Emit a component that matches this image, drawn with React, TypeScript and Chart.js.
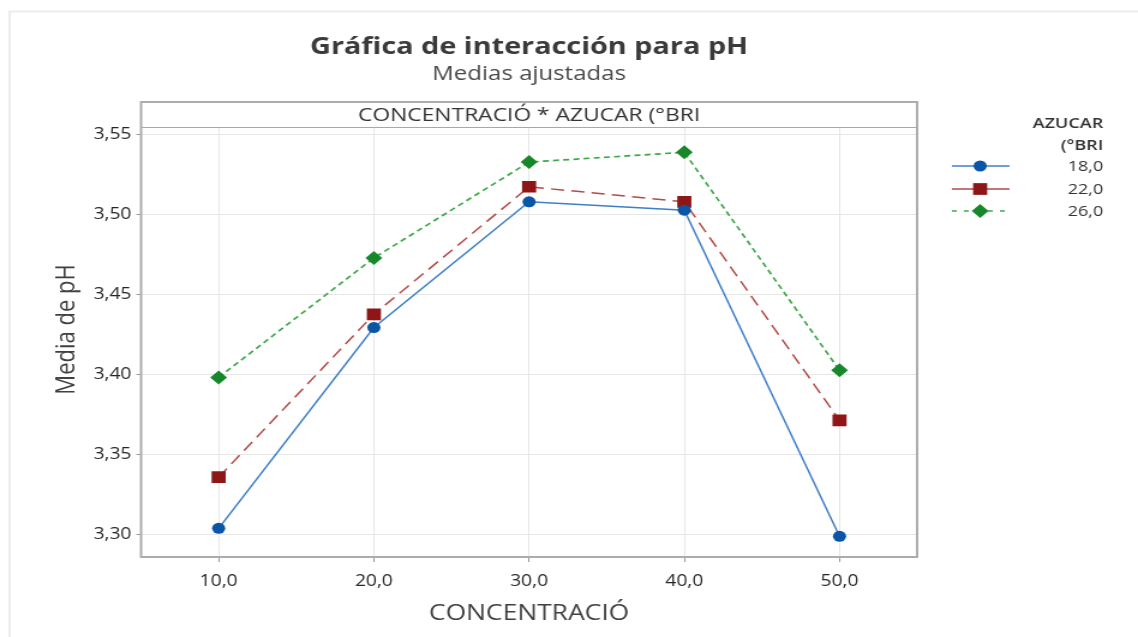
import React, { useEffect, useRef } from 'react';
import { Chart, registerables } from 'chart.js';

Chart.register(...registerables);

// ---- data ----
const concentrations = [10, 20, 30, 40, 50];
const seriesLabels = ['18,0', '22,0', '26,0'];
const ph18 = [3.3039, 3.4292, 3.5077, 3.5025, 3.2989];
const ph22 = [3.3358, 3.4375, 3.5171, 3.5077, 3.3713];
const ph26 = [3.3981, 3.4727, 3.5325, 3.5386, 3.4025];
const xTicks = [10, 20, 30, 40, 50];
const yTicks = [3.3, 3.35, 3.4, 3.45, 3.5, 3.55];
const titleText = 'Gráfica de interacción para pH';
const subtitleText = 'Medias ajustadas';
const stripText = 'CONCENTRACIÓ * AZUCAR (°BRI';
const xTitle = 'CONCENTRACIÓ';
const yTitle = 'Media de pH';
const legendTitle = ['AZUCAR', '(°BRI'];

const FONT = "'Open Sans', 'Noto Sans', sans-serif";
const fmt = (v: number, d: number) => Number(v).toFixed(d).replace('.', ',');

// the reference picture is horizontally stretched; draw on a narrower canvas and stretch it
const PAGE_W = 1138;
const PAGE_H = 637;
const CANVAS_W = 948;
const STRETCH = PAGE_W / CANVAS_W;

function drawMarker(ctx: CanvasRenderingContext2D, style: string, x: number, y: number, r: number, color: string) {
  ctx.save();
  ctx.fillStyle = color;
  ctx.beginPath();
  if (style === 'circle') {
    ctx.arc(x, y, r, 0, Math.PI * 2);
  } else if (style === 'rect') {
    const s = r * Math.SQRT1_2;
    ctx.rect(x - s, y - s, 2 * s, 2 * s);
  } else {
    ctx.moveTo(x, y - r);
    ctx.lineTo(x + r, y);
    ctx.lineTo(x, y + r);
    ctx.lineTo(x - r, y);
    ctx.closePath();
  }
  ctx.fill();
  ctx.restore();
}

export default function App() {
  const ref = useRef<HTMLCanvasElement>(null);

  useEffect(() => {
    const canvas = ref.current;
    if (!canvas) return;

    const seriesValues = [ph18, ph22, ph26];
    const lineColors = ['#3f7fc8', '#b34a47', '#3fa84c'];
    const markerColors = ['#0b55a6', '#8e1616', '#17882a'];
    const pointStyles = ['circle', 'rect', 'rectRot'];
    const radii = [5.5, 8.3, 7];
    const dashes = [[], [11, 6], [5, 3.5]];
    const legendDashes = [[], [], [4, 6]];
    const widths = [1.5, 1.5, 1.7];

    const datasets = seriesLabels.map((label, i) => ({
      label,
      data: concentrations.map((x, j) => ({ x, y: seriesValues[i][j] })),
      borderColor: lineColors[i],
      backgroundColor: markerColors[i],
      pointBackgroundColor: markerColors[i],
      pointBorderColor: markerColors[i],
      pointBorderWidth: 0,
      pointStyle: pointStyles[i] as any,
      pointRadius: radii[i],
      borderWidth: widths[i],
      borderDash: dashes[i],
      tension: 0,
      fill: false,
    }));

    const decor = {
      id: 'decor',
      beforeDatasetsDraw(chart: any) {
        const { ctx, chartArea: a } = chart;
        ctx.save();
        const stripH = 25;
        ctx.fillStyle = '#ffffff';
        ctx.fillRect(a.left, a.top, a.right - a.left, stripH);
        ctx.strokeStyle = '#a8a8a8';
        ctx.lineWidth = 1;
        ctx.beginPath();
        ctx.moveTo(a.left, a.top + stripH + 0.5);
        ctx.lineTo(a.right, a.top + stripH + 0.5);
        ctx.stroke();
        ctx.fillStyle = '#333333';
        ctx.font = `19px ${FONT}`;
        ctx.textAlign = 'center';
        ctx.textBaseline = 'middle';
        ctx.fillText(stripText, (a.left + a.right) / 2, a.top + stripH / 2 + 1);
        ctx.strokeStyle = '#acacac';
        ctx.lineWidth = 2;
        ctx.strokeRect(a.left, a.top, a.right - a.left, a.bottom - a.top);
        ctx.restore();
      },
      afterDraw(chart: any) {
        const { ctx, chartArea: a } = chart;
        ctx.save();
        ctx.strokeStyle = '#ececec';
        ctx.lineWidth = 2;
        ctx.beginPath();
        ctx.moveTo(8, chart.height);
        ctx.lineTo(8, 11.5);
        ctx.lineTo(chart.width, 11.5);
        ctx.stroke();
        const cx = (a.left + a.right) / 2;
        ctx.textAlign = 'center';
        ctx.textBaseline = 'alphabetic';
        ctx.fillStyle = '#3a3a3a';
        ctx.font = `bold 24px ${FONT}`;
        ctx.fillText(titleText, cx, 54);
        ctx.fillStyle = '#4a4a4a';
        ctx.font = `20px ${FONT}`;
        ctx.fillText(subtitleText, cx, 80);
        const rightX = 919;
        ctx.textAlign = 'right';
        ctx.textBaseline = 'middle';
        ctx.fillStyle = '#333333';
        ctx.font = `600 15px ${FONT}`;
        ctx.fillText(legendTitle[0], rightX, 124);
        ctx.fillText(legendTitle[1], rightX, 146);
        const rows = [166, 189, 211];
        chart.data.datasets.forEach((ds: any, i: number) => {
          const y = rows[i];
          ctx.save();
          ctx.strokeStyle = ds.borderColor;
          ctx.lineWidth = ds.borderWidth;
          ctx.setLineDash(legendDashes[i]);
          ctx.beginPath();
          ctx.moveTo(793, y);
          ctx.lineTo(841, y);
          ctx.stroke();
          ctx.restore();
          drawMarker(ctx, ds.pointStyle, 816.5, y, ds.pointRadius, ds.pointBackgroundColor);
          ctx.fillStyle = '#333333';
          ctx.font = `15px ${FONT}`;
          ctx.textAlign = 'right';
          ctx.fillText(ds.label, rightX, y + 1);
        });
        ctx.restore();
      },
    };

    const chart = new Chart(canvas, {
      type: 'line',
      data: { datasets: datasets as any },
      options: {
        responsive: false,
        animation: false,
        devicePixelRatio: 1,
        layout: { padding: { top: 102, right: 184, left: 0, bottom: 0 } },
        plugins: {
          legend: { display: false },
          title: { display: false },
          tooltip: { enabled: false },
        },
        scales: {
          x: {
            type: 'linear',
            min: 5,
            max: 55,
            afterBuildTicks: (s: any) => {
              s.ticks = xTicks.map((v) => ({ value: v }));
            },
            afterFit: (s: any) => {
              s.height = 80;
            },
            ticks: {
              callback: (v: any) => fmt(v, 1),
              font: { family: FONT, size: 16 },
              color: '#262626',
              padding: 10,
              maxRotation: 0,
            },
            grid: { color: '#e6e6e6', tickColor: '#9a9a9a', tickLength: 5, lineWidth: 1 },
            border: { display: false },
            title: {
              display: true,
              text: xTitle,
              font: { family: FONT, size: 22 },
              color: '#404040',
              padding: { top: 0, bottom: 10 },
            },
          },
          y: {
            type: 'linear',
            min: 3.286,
            max: 3.57,
            afterBuildTicks: (s: any) => {
              s.ticks = yTicks.map((v) => ({ value: v }));
            },
            afterFit: (s: any) => {
              s.width = 117.5;
            },
            ticks: {
              callback: (v: any) => fmt(v, 2),
              font: { family: FONT, size: 16 },
              color: '#262626',
              padding: 4,
            },
            grid: { color: '#e6e6e6', tickColor: '#9a9a9a', tickLength: 4, lineWidth: 1 },
            border: { display: false },
            title: {
              display: true,
              text: yTitle,
              font: { family: FONT, size: 22 },
              color: '#404040',
              padding: { top: 42.5, bottom: 0 },
            },
          },
        },
      },
      plugins: [decor],
    });

    return () => chart.destroy();
  }, []);

  return (
    <div style={{ position: 'fixed', left: 0, top: 0, width: PAGE_W, height: PAGE_H, background: '#ffffff', overflow: 'hidden' }}>
      <canvas
        ref={ref}
        width={CANVAS_W}
        height={PAGE_H}
        style={{
          width: CANVAS_W,
          height: PAGE_H,
          display: 'block',
          transform: `scaleX(${STRETCH})`,
          transformOrigin: '0 0',
        }}
      />
    </div>
  );
}
